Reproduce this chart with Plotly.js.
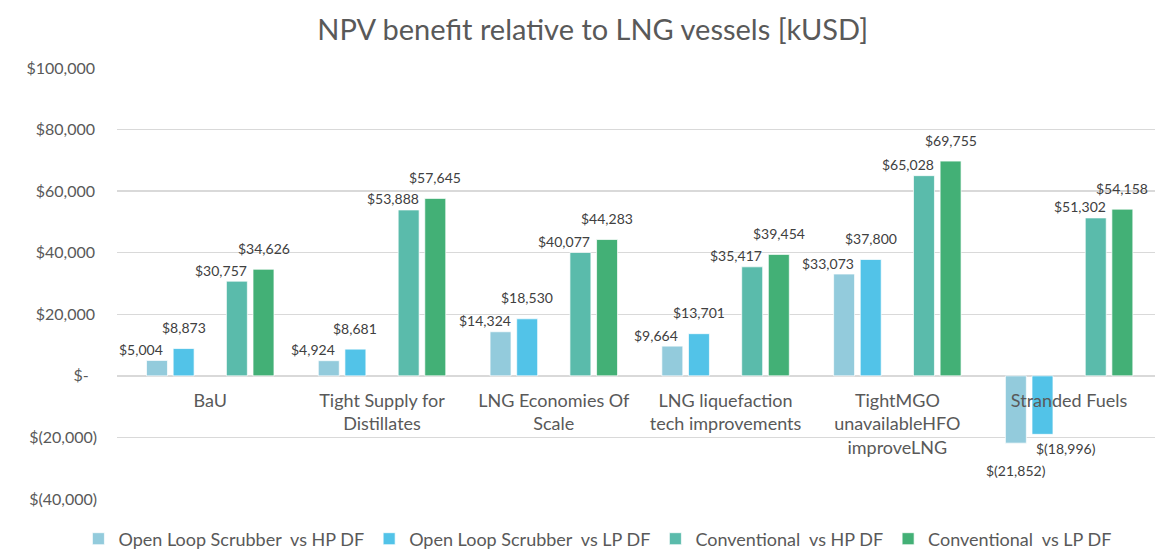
<!DOCTYPE html>
<html>
<head>
<meta charset="utf-8">
<script src="https://cdn.plot.ly/plotly-3.0.1.min.js"></script>
<style>
  body { margin: 0; background: #fff; }
</style>
</head>
<body>
<div id="grafico" style="width:1176px;height:549px"></div>
<script>
// Datos del grafico
const categorias = [
  "BaU",
  "Tight Supply for<br>Distillates",
  "LNG Economies Of<br>Scale",
  "LNG liquefaction<br>tech improvements",
  "TightMGO<br>unavailableHFO<br>improveLNG",
  "Stranded Fuels"
];
const olsHP = [5004, 4924, 14324, 9664, 33073, -21852];
const olsLP = [8873, 8681, 18530, 13701, 37800, -18996];
const convHP = [30757, 53888, 40077, 35417, 65028, 51302];
const convLP = [34626, 57645, 44283, 39454, 69755, 54158];
const nombres = [
  "Open Loop Scrubber  vs HP DF",
  "Open Loop Scrubber  vs LP DF",
  "Conventional  vs HP DF",
  "Conventional  vs LP DF"
];
const yTicks = [-40000, -20000, 0, 20000, 40000, 60000, 80000, 100000];
// formato contable de Excel (con el espacio final de los positivos)
const yTickLabels = ["$(40,000)", "$(20,000)", "$-\u00a0\u00a0", "$20,000\u2009", "$40,000\u2009",
  "$60,000\u2009", "$80,000\u2009", "$100,000\u2009"];

const colores = ["#93CBDC", "#52C3E8", "#5ABBAB", "#43B076"];
const series = [olsHP, olsLP, convHP, convLP];
const gris = "#595959";
const fuente = "Lato, 'Noto Sans', sans-serif";

// Posicion de cada barra dentro del grupo (hay un hueco en el centro)
const paso = 0.155;
const ancho = 0.122;
const centros = [-2 * paso, -paso, paso, 2 * paso];

const formatoDolar = (v) => v < 0
  ? "$(" + Math.abs(v).toLocaleString("en-US") + ")"
  : "$" + v.toLocaleString("en-US");

const trazas = series.map((valores, s) => ({
  type: "bar",
  x: categorias,
  y: valores,
  name: nombres[s],
  offset: centros[s] - ancho / 2,
  width: ancho,
  marker: { color: colores[s], line: { color: "rgba(255,255,255,0.7)", width: 1 } },
  hoverinfo: "skip"
}));

// Etiquetas de datos, colocadas como en Excel
const etiquetas = [];
series.forEach((valores, s) => {
  valores.forEach((v, i) => {
    let dx, dy;
    if (v >= 0) {
      dx = s % 2 === 0 ? -16 : 0;
      dy = s % 2 === 0 ? 11 : 21;
    } else {
      dx = s % 2 === 0 ? 0 : 24;
      dy = s % 2 === 0 ? -27 : -14;
    }
    etiquetas.push({
      x: i + centros[s],
      y: v,
      xref: "x",
      yref: "y",
      text: formatoDolar(v),
      showarrow: false,
      xanchor: "center",
      yanchor: "middle",
      xshift: dx,
      yshift: dy,
      font: { family: fuente, size: 14, color: "#404040" }
    });
  });
});

const diseno = {
  width: 1176,
  height: 549,
  margin: { l: 117, r: 21, t: 68, b: 50, autoexpand: false },
  paper_bgcolor: "#fff",
  plot_bgcolor: "#fff",
  font: { family: fuente, color: gris },
  barmode: "overlay",
  title: {
    text: "NPV benefit relative to LNG vessels [kUSD]",
    x: 0.504,
    xanchor: "center",
    y: 1 - 30 / 549,
    yanchor: "middle",
    font: { family: fuente, size: 29, color: gris }
  },
  xaxis: {
    type: "category",
    anchor: "free",
    position: 40000 / 140000,
    showline: false,
    showgrid: false,
    zeroline: false,
    ticks: "",
    ticklabelstandoff: 12,
    tickfont: { family: fuente, size: 18, color: gris }
  },
  yaxis: {
    range: [-40000, 100000],
    tickvals: yTicks,
    ticktext: yTickLabels,
    showgrid: true,
    gridcolor: "#d9d9d9",
    gridwidth: 1.3,
    zeroline: true,
    zerolinecolor: "#d9d9d9",
    zerolinewidth: 1.3,
    showline: false,
    ticks: "",
    ticklabelstandoff: 19,
    tickfont: { family: fuente, size: 16, color: gris }
  },
  legend: {
    orientation: "h",
    xref: "container",
    x: 0.508,
    xanchor: "center",
    y: (499 - 539) / 431,
    yanchor: "middle",
    font: { family: fuente, size: 18, color: gris },
    traceorder: "normal"
  },
  annotations: etiquetas,
  hovermode: false,
  showlegend: true
};

Plotly.newPlot("grafico", trazas, diseno, { displayModeBar: false, staticPlot: true });
</script>
</body>
</html>
